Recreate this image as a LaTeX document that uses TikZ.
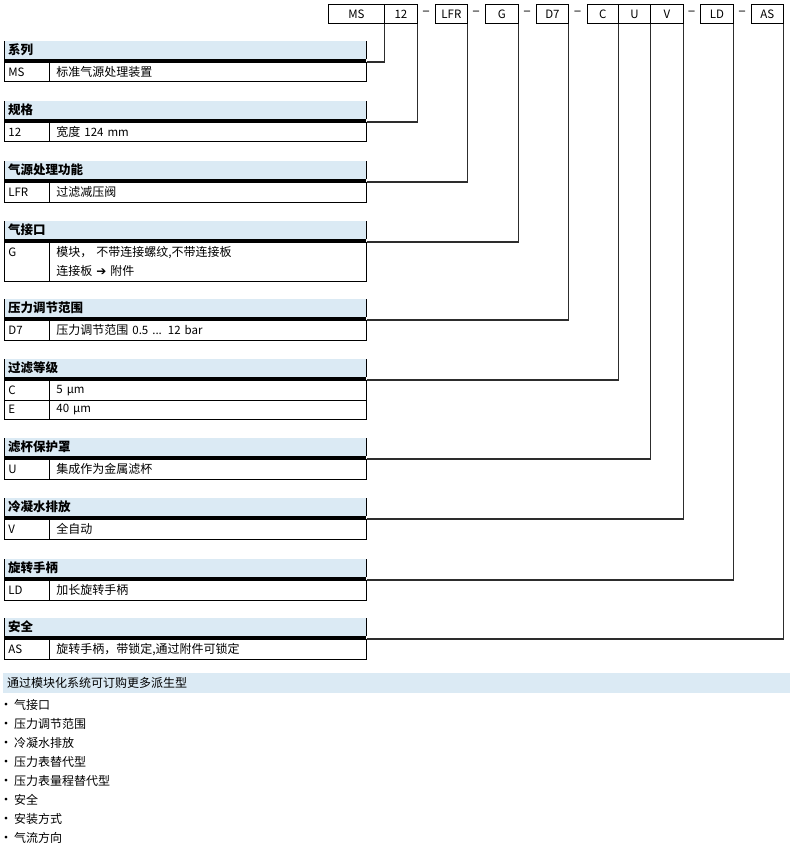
\documentclass[tikz,border=0pt]{standalone}
\usepackage{fontspec}
\setmainfont{Noto Sans CJK SC}
\newfontfamily\symf{DejaVu Sans}
\newcommand\latn[1]{{\fontsize{11.5pt}{12pt}\selectfont #1}}
\definecolor{hdrblue}{RGB}{219,234,244}
\definecolor{connc}{RGB}{45,45,45}
\tikzset{
  bord/.style={draw=black, line width=0.8pt},
  codebox/.style={draw=black, line width=0.8pt, minimum height=19pt, inner sep=0pt,
    anchor=north west, font=\fontsize{11.5pt}{12pt}\selectfont},
  hdrbox/.style={fill=hdrblue, minimum height=18pt, text width=354pt, inner xsep=4pt,
    inner ysep=0pt, anchor=north west, align=left,
    font=\bfseries\fontsize{12.5pt}{14pt}\selectfont},
  thickline/.style={draw=black, line width=3pt},
  codecell/.style={draw=black, line width=0.8pt, text width=37pt, inner xsep=4pt,
    inner ysep=0pt, anchor=north west, align=left,
    font=\fontsize{11.5pt}{19pt}\selectfont},
  desccell/.style={draw=black, line width=0.8pt, text width=303pt, inner xsep=7pt,
    inner ysep=0pt, anchor=north west, align=left,
    font=\fontsize{12pt}{19pt}\selectfont},
  conn/.style={draw=connc, line width=1.1pt},
  dashtxt/.style={inner sep=0pt, font=\fontsize{14pt}{14pt}\selectfont},
  bullettxt/.style={inner sep=0pt, anchor=west, font=\fontsize{12pt}{14pt}\selectfont},
}
\newcommand\spechdr[3]{%
  \node[hdrbox] (#1) at (4,#2) {#3};
  \draw[thickline] ([yshift=-1.5pt]#1.south west) -- ([yshift=-1.5pt]#1.south east);
  \draw[bord] (#1.south west) -- (#1.north west) (#1.south east) -- (#1.north east);
}
\newcommand\specrow[5]{%
  \node[codecell, minimum height=#3pt] (#1c) at (4,#2) {#4};
  \node[desccell, minimum height=#3pt] (#1) at (49,#2) {#5};
}
\newcommand\bul{\makebox[8pt][c]{\fontsize{13pt}{14pt}\selectfont •}\hspace{4pt}}
\begin{document}
\begin{tikzpicture}[x=1pt,y=-1pt]
\useasboundingbox (0,0) rectangle (790,845);

% order code boxes
\node[codebox, minimum width=56pt] (bMS) at (328,4) {MS};
\node[codebox, minimum width=33pt] (b12) at (384,4) {12};
\node[codebox, minimum width=32pt] (bLFR) at (435,4) {LFR};
\node[codebox, minimum width=33pt] (bG) at (485,4) {G};
\node[codebox, minimum width=32pt] (bD7) at (536,4) {D7};
\node[codebox, minimum width=31pt] (bC) at (587,4) {C};
\node[codebox, minimum width=32pt] (bU) at (618,4) {U};
\node[codebox, minimum width=33pt] (bV) at (650,4) {V};
\node[codebox, minimum width=33pt] (bLD) at (700,4) {LD};
\node[codebox, minimum width=32pt] (bAS) at (751,4) {AS};
\node[dashtxt] (d1) at (426,13.5) {–};
\node[dashtxt] (d2) at (476,13.5) {–};
\node[dashtxt] (d3) at (527,13.5) {–};
\node[dashtxt] (d4) at (577.5,13.5) {–};
\node[dashtxt] (d5) at (691.5,13.5) {–};
\node[dashtxt] (d6) at (742,13.5) {–};

% tables
\spechdr{h1}{41}{系列}
\specrow{r1}{62}{19.5}{MS}{标准气源处理装置}
\spechdr{h2}{101}{规格}
\specrow{r2}{122}{19.5}{12}{宽度 \latn{124 mm}}
\spechdr{h3}{161}{气源处理功能}
\specrow{r3}{182}{19.5}{LFR}{过滤减压阀}
\spechdr{h4}{221}{气接口}
\specrow{r4}{242}{38.5}{G\\\mbox{}}{模块， 不带连接螺纹,不带连接板\\连接板 {\symf\bfseries ➔} 附件}
\spechdr{h5}{299}{压力调节范围}
\specrow{r5}{320}{19.5}{D7}{压力调节范围 \latn{0.5 ... 12 bar}}
\spechdr{h6}{359}{过滤等级}
\specrow{r6}{380}{19.5}{C}{\latn{5 µm}}
\specrow{r6b}{399.5}{19.5}{E}{\latn{40 µm}}
\spechdr{h7}{438}{滤杯保护罩}
\specrow{r7}{459}{19.5}{U}{集成作为金属滤杯}
\spechdr{h8}{498}{冷凝水排放}
\specrow{r8}{519}{19.5}{V}{全自动}
\spechdr{h9}{559}{旋转手柄}
\specrow{r9}{580}{19.5}{LD}{加长旋转手柄}
\spechdr{h10}{618}{安全}
\specrow{r10}{639}{19.5}{AS}{旋转手柄，带锁定,通过附件可锁定}

% connectors
\draw[conn] (r1.north east) -| (bMS.south east);
\draw[conn] (r2.north east) -| (b12.south east);
\draw[conn] (r3.north east) -| (bLFR.south east);
\draw[conn] (r4.north east) -| (bG.south east);
\draw[conn] (r5.north east) -| (bD7.south east);
\draw[conn] (r6.north east) -| (bC.south east);
\draw[conn] (r7.north east) -| (bU.south east);
\draw[conn] (r8.north east) -| (bV.south east);
\draw[conn] (r9.north east) -| (bLD.south east);
\draw[conn] (r10.north east) -| (bAS.south east);

% more variants
\node[fill=hdrblue, anchor=north west, minimum height=20pt, text width=779pt,
  inner xsep=4pt, inner ysep=0pt, align=left, font=\fontsize{12pt}{14pt}\selectfont]
  (more) at (3,673) {通过模块化系统可订购更多派生型};
\node[bullettxt] (l1) at (2,705) {\bul 气接口};
\node[bullettxt] (l2) at (2,724) {\bul 压力调节范围};
\node[bullettxt] (l3) at (2,743) {\bul 冷凝水排放};
\node[bullettxt] (l4) at (2,762) {\bul 压力表替代型};
\node[bullettxt] (l5) at (2,781) {\bul 压力表量程替代型};
\node[bullettxt] (l6) at (2,800) {\bul 安全};
\node[bullettxt] (l7) at (2,819) {\bul 安装方式};
\node[bullettxt] (l8) at (2,838) {\bul 气流方向};
\end{tikzpicture}
\end{document}
